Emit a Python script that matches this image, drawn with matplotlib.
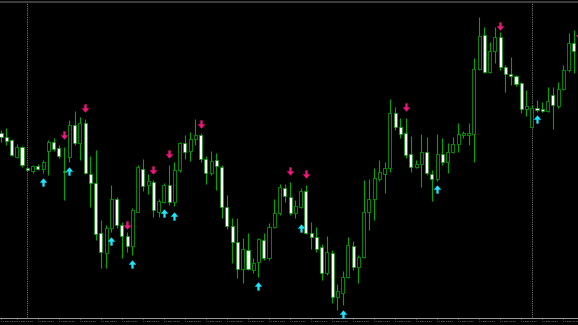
import numpy as np
import pandas as pd
import matplotlib
matplotlib.use("Agg")
import matplotlib.pyplot as plt
from matplotlib.path import Path

# M15 candles, values in chart units (no price scale visible)
opens = [185, 181, 178, 161, 171, 150, 147.5, 152, 149.5, 167, 176, 170, 147, 161.3, 192.7, 175.3,
         195, 144, 135, 85, 65.3, 90, 119, 93, 82, 72, 106.3, 149.3, 133, 136.3, 106, 116.3,
         133, 116.3, 148, 174.7, 167.3, 178.7, 183, 159, 144.7, 158, 150.7, 111.3, 92, 76.3,
         48.7, 68, 48, 56.3, 78, 59.7, 90.7, 104.7, 130.3, 121.3, 105.3, 111.3, 127, 85.3, 80.7,
         70.7, 44.7, 65.3, 21.3, 25.3, 41.3, 72.3, 51.3, 61.3, 106.3, 118.7, 139, 144, 150,
         205.3, 190.7, 185.3, 163.7, 151.3, 153.7, 166.3, 144, 138.7, 163.7, 156.3, 166.3, 174,
         183, 183, 184, 248.7, 283, 245.7, 267, 281.3, 251.3, 243.7, 242, 234.7, 208.7, 191.3,
         209.7, 209, 207.3, 223, 212.3, 229, 248, 274.7, 268]
highs = [188, 190, 179, 174, 172, 151, 153, 154, 158, 178, 180, 173, 171, 198, 207, 201,
         199, 162, 168, 98, 93, 133, 121, 96, 86, 110, 153, 159, 144, 138, 119, 135,
         153, 156, 176.3, 183, 186.3, 198.7, 185.3, 162, 167.3, 165.3, 153, 123, 100, 100,
         79.7, 85, 60, 80, 84.7, 94.7, 118.7, 134, 134, 136.3, 118, 129.7, 133, 96.3, 90.7,
         74, 82, 68, 34, 47.3, 80.7, 77.3, 63, 138, 138.7, 149.7, 158, 156.3, 218.7,
         211.3, 199.7, 199.7, 182, 158, 183.7, 180.7, 148, 184, 179.7, 174.7, 181.3, 194.7,
         187.3, 194.7, 259.7, 301.3, 291.3, 276.3, 290.7, 286.3, 253, 261.3, 243, 236, 228, 213,
         218, 216.3, 230.7, 230.7, 236.3, 253, 284.7, 288, 273]
lows = [176, 173, 162, 160, 151, 147, 145, 148, 145, 143, 167, 160, 118, 156, 173, 158,
        144, 111, 78, 50, 50, 86, 90, 60, 66, 63, 106, 127, 124, 101, 101.3, 115,
        113, 112, 146, 159, 157.3, 173, 156.3, 134, 143, 128, 100, 88.7, 55, 40,
        35, 48, 45, 41, 58, 58, 90, 103, 116.3, 103, 100, 110, 84, 69, 66,
        38, 43, 15.3, 8, 13, 40, 48, 35.3, 60, 88, 98, 137, 124.7, 146,
        188, 180, 159.7, 146.3, 150, 131.3, 143, 117.3, 137, 153, 144.7, 165, 166.3,
        180, 173, 156.3, 248, 245.3, 245, 254.7, 248, 226.3, 233, 232, 204.7, 202, 190,
        206, 206, 206, 188.7, 210, 228, 246, 244.7, 218]
closes = [181, 177, 163, 171, 153, 148, 152, 149.5, 156, 176, 169.3, 162, 146.5, 193, 175.3, 195,
          145.3, 135, 84, 66, 90.3, 119, 93, 82, 72, 108, 151, 132, 137, 108, 117, 132.7,
          116.3, 148, 174.7, 166.3, 178.7, 183, 159, 144.7, 157, 152.3, 111.3, 92, 76.3, 48.7,
          68.7, 49.3, 55.3, 78.7, 60.3, 91.3, 104.7, 130.7, 122, 105.3, 112, 127.3, 85.3, 80.7, 68.7,
          44.7, 65.7, 21.3, 27, 41.3, 73, 50.7, 60.7, 105.7, 119, 139.7, 145.7, 150, 205.3,
          190.7, 184, 162.7, 151.3, 153.7, 166.3, 145.3, 139, 164, 156.3, 166.3, 173.7, 183.7,
          184.7, 184.7, 248.7, 282, 246.3, 267, 281.3, 250.7, 244, 242, 234, 209, 212.3, 209.7,
          208, 207.3, 217.3, 213, 229, 248, 274.7, 267.3, 221]

# signal arrows: candle index and level
sell_idx = [12, 16, 24, 29, 32, 38, 55, 58, 77, 95, 110]
sell_lvl = [183, 210, 93.5, 148, 164.5, 194.3, 147.5, 144, 210.7, 292.2, 283]
buy_idx = [8, 13, 21, 25, 31, 33, 49, 57, 65, 83, 102]
buy_lvl = [136, 147, 77, 54, 105, 102.5, 31.7, 90, 4.5, 129, 199]

day_breaks = [5, 101]
times = pd.date_range("2023-12-10 22:45", periods=len(opens), freq="15min")
tick_idx = [0] + list(range(3, len(opens), 4))

o = np.array(opens)
h = np.array(highs)
l = np.array(lows)
c = np.array(closes)
x = np.arange(len(o))
bear = c < o

fig = plt.figure(figsize=(5.78, 3.25), dpi=100, facecolor="black")
ax = fig.add_axes([0, 7 / 325, 1, 316 / 325])
ax.set_facecolor("black")

for d in day_breaks:
    ax.axvline(d, color="#a0a0a0", lw=0.6, ls=(0, (1, 1.2)), zorder=1)

ax.vlines(x, l, h, color="#00a800", lw=0.8, zorder=2)
body_lo = np.minimum(o, c)
body_h = np.maximum(np.abs(c - o), 0.6)
ax.bar(x[bear], body_h[bear], bottom=body_lo[bear], width=0.58,
       facecolor="white", edgecolor="#00a000", lw=0.5, zorder=3)
ax.bar(x[~bear], body_h[~bear], bottom=body_lo[~bear], width=0.58,
       facecolor="black", edgecolor="#00a000", lw=0.6, zorder=3)

# arrow markers
down = Path([(-0.28, 1), (0.28, 1), (0.28, 0.05), (0.9, 0.05), (0, -1), (-0.9, 0.05),
             (-0.28, 0.05), (-0.28, 1)], closed=True)
up = Path([(-0.28, -1), (0.28, -1), (0.28, -0.05), (0.9, -0.05), (0, 1), (-0.9, -0.05),
           (-0.28, -0.05), (-0.28, -1)], closed=True)
ax.plot(sell_idx, sell_lvl, ls="none", marker=down, ms=6, color="#f0147c", mew=0, zorder=4)
ax.plot(buy_idx, buy_lvl, ls="none", marker=up, ms=6, color="#19e6ff", mew=0, zorder=4)

ax.set_xlim(-1 / 5.255, 577 / 5.255)
ax.set_ylim(0, 316)
for s in ["left", "right"]:
    ax.spines[s].set_visible(False)
ax.spines["top"].set_color("#3c3c3c")
ax.spines["top"].set_linewidth(1.5)
ax.spines["bottom"].set_color("#9a9a9a")
ax.spines["bottom"].set_linewidth(0.7)
ax.set_yticks([])
ax.set_xticks(tick_idx)
ax.set_xticklabels([times[i].strftime("%d %b %H:%M") for i in tick_idx],
                   fontsize=1.75, color="#bdbdbd", ha="left")
ax.tick_params(axis="x", length=1.0, width=0.5, color="#9a9a9a", pad=0.8)

fig.savefig("out.png", dpi=100, facecolor="black")
